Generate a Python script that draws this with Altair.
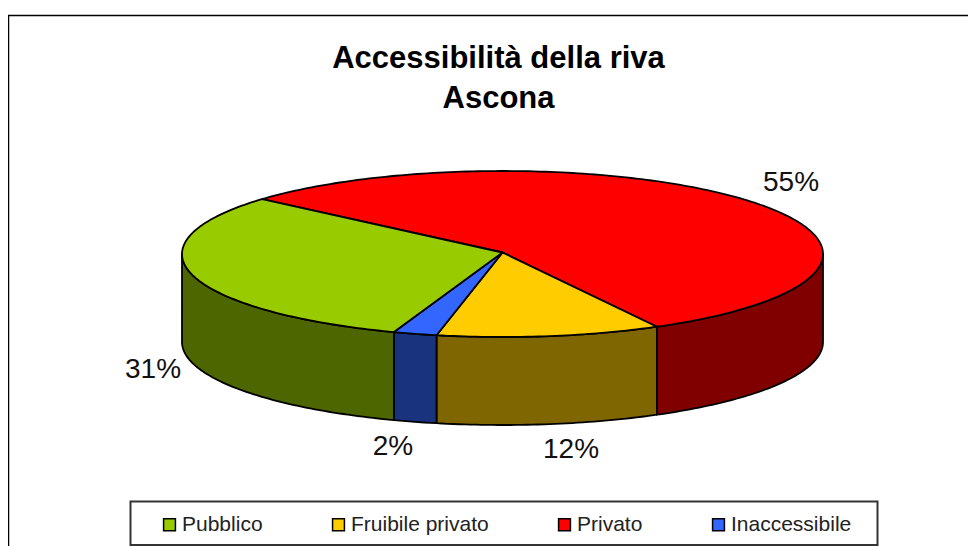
import math
import altair as alt
import pandas as pd

# --- chart values ---
categories = ["Pubblico", "Fruibile privato", "Privato", "Inaccessibile"]
shares = [31, 11.3, 55.5, 2.2]
top_colours = ["#99cc00", "#ffcc00", "#ff0000", "#3366ff"]
side_colours = ["#4d6600", "#806600", "#800000", "#19337f"]
label_texts = ["31%", "12%", "55%", "2%"]
label_x = [153, 571, 791, 393]
label_y = [370, 450, 183, 447]
title_lines = ["Accessibilità della riva", "Ascona"]

# --- pie geometry (page pixels) ---
CX, CY, RX, RY, DEPTH = 502.5, 254, 320.5, 83, 88
APEX_Y = 252.5
START = 311.4
draw_order = ["Privato", "Fruibile privato", "Inaccessibile", "Pubblico"]


def rim(t):
    r = math.radians(t)
    return CX + RX * math.sin(r), CY - RY * math.cos(r)


tops, sides = [], []
a = START
for name in draw_order:
    i = categories.index(name)
    b = a + shares[i] * 3.6
    n = max(4, int(b - a))
    arc = [a + (b - a) * k / n for k in range(n + 1)]
    pts = [(CX, APEX_Y)] + [rim(t) for t in arc]
    for k, (x, y) in enumerate(pts):
        tops.append({"cat": name, "k": k, "x": x, "y": y})
    lo, hi = max(a, 90), min(b, 270)
    lo2, hi2 = max(a - 360, 90), min(b - 360, 270)
    if hi2 > lo2:
        lo, hi = lo2, hi2
    if hi > lo:
        m = max(2, int(hi - lo))
        vis = [lo + (hi - lo) * k / m for k in range(m + 1)]
        edge = [rim(t) for t in vis]
        poly = edge + [(x, y + DEPTH) for x, y in reversed(edge)]
        for k, (x, y) in enumerate(poly):
            sides.append({"cat": name, "k": k, "x": x, "y": y, "shade": side_colours[i]})
    a = b

X = alt.Scale(domain=[8, 968], nice=False, zero=False)
Y = alt.Scale(domain=[546, 8], nice=False, zero=False)
x_enc = alt.X("x:Q", scale=X, axis=None)
y_enc = alt.Y("y:Q", scale=Y, axis=None)

frame = alt.Chart(pd.DataFrame({"x": [8.5, 8.5, 968], "y": [546, 15.5, 15.5], "k": [0, 1, 2]})).mark_line(
    color="#000000", strokeWidth=1.5
).encode(x_enc, y_enc, order="k:Q")

side_layer = alt.Chart(pd.DataFrame(sides)).mark_line(
    interpolate="linear-closed", stroke="#000000", strokeWidth=1.8, strokeJoin="round"
).encode(x_enc, y_enc, order="k:Q", detail="cat:N", fill=alt.Fill("shade:N", scale=None))

top_layer = alt.Chart(pd.DataFrame(tops)).mark_line(
    interpolate="linear-closed", stroke="#000000", strokeWidth=1.8, strokeJoin="round"
).encode(
    x_enc, y_enc, order="k:Q", detail="cat:N",
    fill=alt.Fill(
        "cat:N",
        scale=alt.Scale(domain=categories, range=top_colours),
        sort=categories,
        legend=alt.Legend(
            orient="none", legendX=151, legendY=506, direction="horizontal", columns=4,
            title=None, symbolType="square", symbolSize=140, symbolStrokeColor="#000000",
            symbolStrokeWidth=1.5, labelFont="Liberation Sans", labelFontSize=21,
            labelColor="#222222", labelOffset=2, columnPadding=65, padding=0,
        ),
    ),
)

box = alt.Chart(pd.DataFrame({"x": [130.5], "x2": [877.5], "y": [501.5], "y2": [545]})).mark_rect(
    fill="#ffffff", stroke="#333333", strokeWidth=2
).encode(alt.X("x:Q", scale=X, axis=None), x2="x2:Q", y=alt.Y("y:Q", scale=Y, axis=None), y2="y2:Q")

labels = alt.Chart(pd.DataFrame({"t": label_texts, "x": label_x, "y": label_y})).mark_text(
    font="Liberation Sans", fontSize=28, color="#111111"
).encode(x_enc, y_enc, text="t:N")

chart = alt.layer(frame, box, side_layer, top_layer, labels).properties(
    width=960, height=538, padding=0, autosize=alt.AutoSizeParams(type="none"),
    background="#ffffff",
    title=alt.TitleParams(
        text=title_lines, font="Liberation Sans", fontSize=31, fontWeight="bold", color="#000000",
        anchor="start", align="center", dx=490.5, dy=111, lineHeight=40, frame="group",
    ),
).configure_view(stroke=None)

chart.save("out.html", embed_options={"renderer": "svg", "actions": False})
